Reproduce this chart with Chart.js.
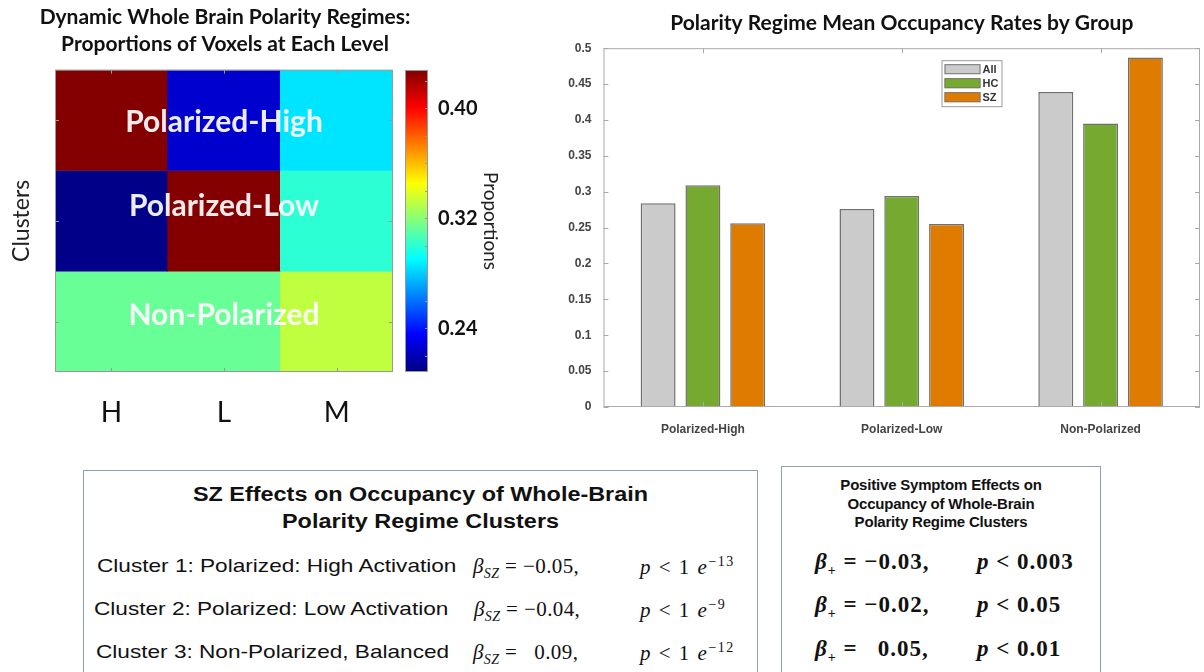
<!DOCTYPE html>
<html>
<head>
<meta charset="utf-8">
<title>Polarity Regimes</title>
<script src="https://cdn.jsdelivr.net/npm/chart.js@4.4.0/dist/chart.umd.min.js"></script>
<style>
  html, body { margin: 0; padding: 0; background: #fff; }
  body { width: 1204px; height: 672px; position: relative; overflow: hidden; }
  canvas { position: absolute; }
  #heatChart { left: 0; top: 0; }
  #cbarChart { left: 395px; top: 0; }
  #barChart { left: 540px; top: 0; }
  .box { position: absolute; border: 1.5px solid #8ea2b6; border-bottom: none; background: #fff; color: #111; }
  .box .ttl { position: absolute; left: 0; right: 0; text-align: center; font-family: "Liberation Sans", Arial, sans-serif; font-weight: bold; }
  .row { position: absolute; white-space: pre; }
  .lbl { font-family: "Liberation Sans", Arial, sans-serif; font-size: 19px; transform: scaleX(1.19); transform-origin: 0 0; }
  .math { font-family: "Liberation Serif", "DejaVu Serif", serif; font-size: 21px; letter-spacing: 0.4px; }
  .math sub, .math sup { font-size: 14px; }
  .bold { font-weight: bold; font-size: 23px; letter-spacing: 1px; }
</style>
</head>
<body>
<canvas id="heatChart" width="450" height="430"></canvas>
<canvas id="cbarChart" width="120" height="430"></canvas>
<canvas id="barChart" width="664" height="440"></canvas>

<div class="box" style="left:83px; top:470px; width:673px; height:210px;">
  <div class="ttl" style="top:10px; font-size:20px; line-height:27px; transform: scaleX(1.17);">SZ Effects on Occupancy of Whole-Brain<br>Polarity Regime Clusters</div>
  <div class="row lbl" style="left:13px; top:84px;">Cluster 1: Polarized: High Activation</div>
  <div class="row lbl" style="left:10px; top:127px;">Cluster 2: Polarized: Low Activation</div>
  <div class="row lbl" style="left:12px; top:170px;">Cluster 3: Non-Polarized, Balanced</div>
  <div class="row math" style="left:389px; top:83px;"><i>β</i><sub><i>SZ</i></sub> = −0.05,</div>
  <div class="row math" style="left:390px; top:126px;"><i>β</i><sub><i>SZ</i></sub> = −0.04,</div>
  <div class="row math" style="left:389px; top:169px;"><i>β</i><sub><i>SZ</i></sub> =   0.09,</div>
  <div class="row math" style="left:556px; top:83px; letter-spacing:1.5px;"><i>p</i> &lt; 1 <i>e</i><sup>−13</sup></div>
  <div class="row math" style="left:556px; top:126px; letter-spacing:1.5px;"><i>p</i> &lt; 1 <i>e</i><sup>−9</sup></div>
  <div class="row math" style="left:556px; top:169px; letter-spacing:1.5px;"><i>p</i> &lt; 1 <i>e</i><sup>−12</sup></div>
</div>

<div class="box" style="left:781px; top:466px; width:318px; height:214px;">
  <div class="ttl" style="top:9px; font-size:15px; line-height:18.5px; letter-spacing:-0.2px;">Positive Symptom Effects on<br>Occupancy of Whole-Brain<br>Polarity Regime Clusters</div>
  <div class="row math bold" style="left:33px; top:82px;"><i>β</i><sub>+</sub> = −0.03,</div>
  <div class="row math bold" style="left:33px; top:125px;"><i>β</i><sub>+</sub> = −0.02,</div>
  <div class="row math bold" style="left:33px; top:169px;"><i>β</i><sub>+</sub> =   0.05,</div>
  <div class="row math bold" style="left:195px; top:82px;"><i>p</i> &lt; 0.003</div>
  <div class="row math bold" style="left:195px; top:125px;"><i>p</i> &lt; 0.05</div>
  <div class="row math bold" style="left:195px; top:169px;"><i>p</i> &lt; 0.01</div>
</div>

<script>
// heatmap: proportions of voxels per cluster (rows) at each level (columns)
const levels = ['H', 'L', 'M'];
const clusters = ['Polarized-High', 'Polarized-Low', 'Non-Polarized'];
const polHigh = [0.427, 0.225, 0.285];
const polLow = [0.210, 0.427, 0.300];
const nonPol = [0.313, 0.313, 0.332];
const cbMin = 0.208;
const cbMax = 0.428;
const cbTicks = [0.24, 0.32, 0.40];
const cbMinorTicks = [0.22, 0.24, 0.26, 0.28, 0.30, 0.32, 0.34, 0.36, 0.38, 0.40, 0.42];

// mean occupancy rates by group
const regimes = ['Polarized-High', 'Polarized-Low', 'Non-Polarized'];
const occAll = [0.284, 0.276, 0.439];
const occHC = [0.309, 0.294, 0.395];
const occSZ = [0.256, 0.255, 0.487];

function jet(v) {
  let t = (v - cbMin) / (cbMax - cbMin);
  t = Math.min(1, Math.max(0, t));
  const c = k => Math.round(255 * Math.min(1, Math.max(0, 1.5 - Math.abs(4 * t - k))));
  return 'rgb(' + c(3) + ',' + c(2) + ',' + c(1) + ')';
}

// box around the plot with small inward tick marks (matlab style)
const frameTicks = {
  id: 'frameTicks',
  afterDatasetsDraw(chart, args, opts) {
    const {ctx, chartArea: a, scales} = chart;
    const L = opts.len || 4;
    ctx.save();
    ctx.strokeStyle = opts.color || '#999';
    ctx.lineWidth = 1;
    ctx.strokeRect(a.left + 0.5, a.top + 0.5, a.width - 1, a.height - 1);
    ctx.beginPath();
    if (opts.x !== false && scales.x && scales.x.options.display !== false) {
      scales.x.ticks.forEach((t, i) => {
        const x = Math.round(scales.x.getPixelForTick(i)) + 0.5;
        ctx.moveTo(x, a.bottom); ctx.lineTo(x, a.bottom - L);
        ctx.moveTo(x, a.top); ctx.lineTo(x, a.top + L);
      });
    }
    const yVals = opts.yValues || scales.y.ticks.map(t => t.value);
    yVals.forEach(v => {
      const y = Math.round(scales.y.getPixelForValue(v)) + 0.5;
      if (opts.side !== 'right') { ctx.moveTo(a.left, y); ctx.lineTo(a.left + L, y); }
      ctx.moveTo(a.right, y); ctx.lineTo(a.right - L, y);
    });
    ctx.stroke();
    ctx.restore();
  }
};

const cellLabels = {
  id: 'cellLabels',
  afterDatasetsDraw(chart, args, opts) {
    const {ctx, chartArea: a, scales} = chart;
    ctx.save();
    ctx.font = 'bold 30px Lato';
    ctx.fillStyle = 'rgba(255,255,255,0.92)';
    ctx.textAlign = 'center';
    ctx.textBaseline = 'middle';
    chart.data.datasets.forEach((ds, i) => {
      const y = scales.y.getPixelForValue(i + opts.rowPos[i]);
      ctx.fillText(ds.label, (a.left + a.right) / 2, y);
    });
    ctx.restore();
  }
};

const boxLegend = {
  id: 'boxLegend',
  afterDatasetsDraw(chart, args, opts) {
    const {ctx, chartArea: a} = chart;
    const x0 = a.left + opts.left, y0 = a.top + opts.top;
    ctx.save();
    ctx.fillStyle = '#fff';
    ctx.strokeStyle = '#999';
    ctx.lineWidth = 1;
    ctx.fillRect(x0, y0, 60, 46);
    ctx.strokeRect(x0 + 0.5, y0 + 0.5, 60, 46);
    ctx.font = 'bold 11px "Liberation Sans"';
    ctx.textBaseline = 'middle';
    chart.data.datasets.forEach((ds, i) => {
      const sy = y0 + 4 + i * 14;
      ctx.fillStyle = ds.backgroundColor;
      ctx.fillRect(x0 + 3, sy, 36, 10);
      ctx.strokeStyle = '#777';
      ctx.strokeRect(x0 + 3.5, sy + 0.5, 35, 9);
      ctx.fillStyle = '#333';
      ctx.fillText(ds.label, x0 + 41, sy + 5.5);
    });
    ctx.restore();
  }
};

// heatmap built from stacked unit bars, coloured by value
const heatRows = [polHigh, polLow, nonPol];
new Chart(document.getElementById('heatChart'), {
  type: 'bar',
  data: {
    labels: levels,
    datasets: heatRows.map((row, i) => ({
      label: clusters[i],
      data: row.map(() => 1),
      backgroundColor: row.map(jet),
      borderWidth: 0,
      barPercentage: 1,
      categoryPercentage: 1
    }))
  },
  options: {
    responsive: false,
    animation: false,
    plugins: {
      legend: { display: false },
      tooltip: { enabled: false },
      title: {
        display: true,
        text: ['Dynamic Whole Brain Polarity Regimes:', 'Proportions of Voxels at Each Level'],
        font: { family: 'Lato', size: 21, weight: 'bold', lineHeight: 1.28 },
        color: '#111',
        padding: { top: 4, bottom: 12 }
      },
      frameTicks: { color: '#999', yValues: [0.5, 1.5, 2.5] },
      cellLabels: { rowPos: [0.52, 0.36, 0.44] }
    },
    scales: {
      x: {
        stacked: true,
        grid: { display: false },
        border: { display: false },
        ticks: { font: { family: 'Lato', size: 28 }, color: '#111', padding: 16 },
        afterFit: s => { s.height = 58; }
      },
      y: {
        stacked: true,
        min: 0,
        max: 3,
        reverse: true,
        ticks: { display: false },
        grid: { display: false },
        border: { display: false },
        title: { display: true, text: 'Clusters', font: { family: 'Lato', size: 23 }, color: '#222', padding: { top: 8, bottom: 0 } },
        afterFit: s => { s.width = 55; }
      },
      // empty right axis: reserves the space where the colour bar sits
      yRight: {
        type: 'linear',
        position: 'right',
        ticks: { display: false },
        grid: { display: false },
        border: { display: false },
        afterFit: s => { s.width = 57; }
      }
    }
  },
  plugins: [frameTicks, cellLabels]
});

// colour bar
new Chart(document.getElementById('cbarChart'), {
  type: 'bar',
  data: {
    labels: ['cb'],
    datasets: [{
      data: [[cbMin, cbMax]],
      backgroundColor: c => {
        const a = c.chart.chartArea;
        if (!a) return '#000';
        const g = c.chart.ctx.createLinearGradient(0, a.bottom, 0, a.top);
        for (let i = 0; i <= 40; i++) g.addColorStop(i / 40, jet(cbMin + (cbMax - cbMin) * i / 40));
        return g;
      },
      borderWidth: 0,
      barPercentage: 1,
      categoryPercentage: 1
    }]
  },
  options: {
    responsive: false,
    animation: false,
    layout: { padding: { left: 10, top: 70, bottom: 58 } },
    plugins: {
      legend: { display: false },
      tooltip: { enabled: false },
      frameTicks: { color: '#999', x: false, side: 'right', yValues: cbMinorTicks, len: 3 }
    },
    scales: {
      x: { display: false },
      y: {
        position: 'right',
        min: cbMin,
        max: cbMax,
        afterBuildTicks: s => { s.ticks = cbTicks.map(v => ({ value: v })); },
        ticks: { callback: v => v.toFixed(2), font: { family: 'Lato', size: 20, weight: 'bold' }, color: '#111', padding: 2 },
        grid: { display: false },
        border: { display: false },
        title: { display: true, text: 'Proportions', font: { family: 'Lato', size: 19 }, color: '#222', padding: { top: 13, bottom: 0 } },
        afterFit: s => { s.width = 87; }
      }
    }
  },
  plugins: [frameTicks]
});

// grouped bar chart
new Chart(document.getElementById('barChart'), {
  type: 'bar',
  data: {
    labels: regimes,
    datasets: [
      { label: 'All', data: occAll, backgroundColor: '#cbcbcb' },
      { label: 'HC', data: occHC, backgroundColor: '#76a930' },
      { label: 'SZ', data: occSZ, backgroundColor: '#df7c00' }
    ]
  },
  options: {
    responsive: false,
    animation: false,
    datasets: { bar: { borderColor: '#707070', borderWidth: 1.5, barPercentage: 0.78, categoryPercentage: 0.676 } },
    layout: { padding: { right: 4 } },
    plugins: {
      legend: { display: false },
      tooltip: { enabled: false },
      title: {
        display: true,
        fullSize: false,
        text: 'Polarity Regime Mean Occupancy Rates by Group',
        font: { family: 'Lato', size: 21, weight: 'bold', lineHeight: 1.2 },
        color: '#111',
        padding: { top: 11, bottom: 12 }
      },
      frameTicks: { color: '#aaa', len: 5 },
      boxLegend: { left: 338, top: 12 }
    },
    scales: {
      x: {
        grid: { display: false },
        border: { display: false },
        ticks: { font: { family: 'Liberation Sans', size: 12, weight: 'bold' }, color: '#444', padding: 7 },
        afterFit: s => { s.height = 33; }
      },
      y: {
        min: 0,
        max: 0.5,
        ticks: {
          stepSize: 0.05,
          callback: v => String(parseFloat(v.toFixed(2))),
          font: { family: 'Liberation Sans', size: 12, weight: 'bold' },
          color: '#444',
          padding: 4
        },
        grid: { display: false },
        border: { display: false },
        afterFit: s => { s.width = 63.5; }
      }
    }
  },
  plugins: [frameTicks, boxLegend]
});
</script>
</body>
</html>
